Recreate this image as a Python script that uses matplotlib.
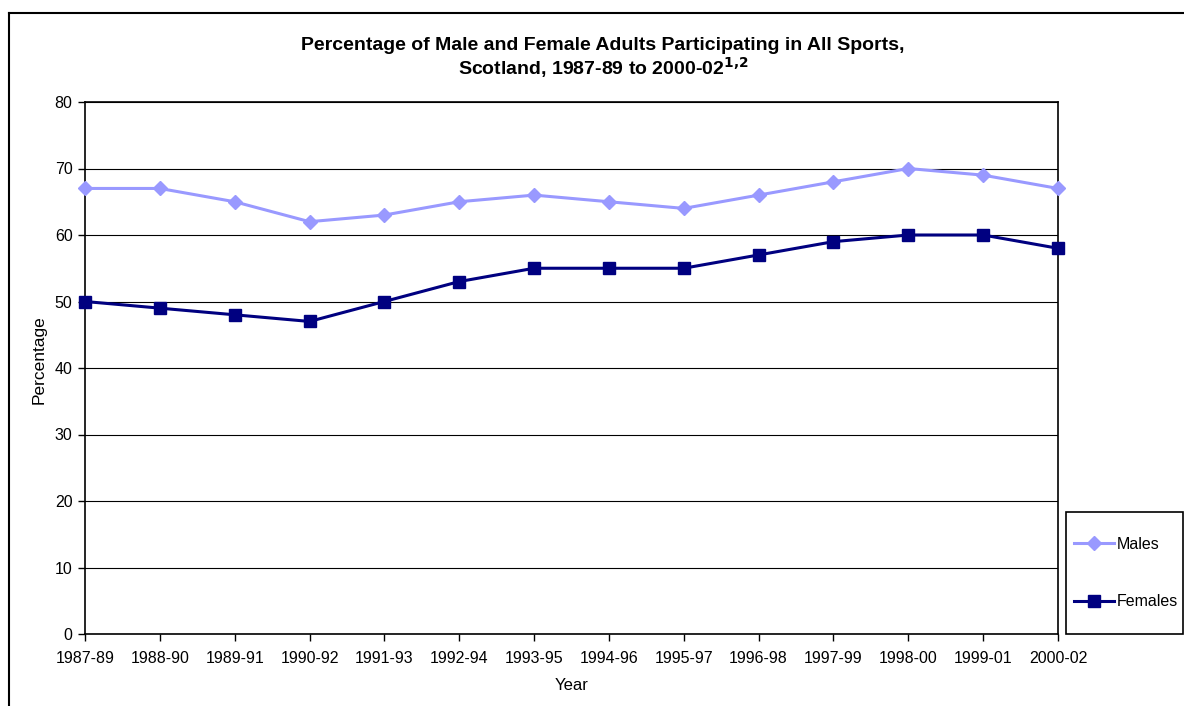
import matplotlib
matplotlib.use("Agg")
import matplotlib.pyplot as plt
from matplotlib.lines import Line2D
from matplotlib.patches import Rectangle

plt.rcParams['font.family'] = ['Liberation Sans', 'DejaVu Sans']

years = ["1987-89", "1988-90", "1989-91", "1990-92", "1991-93", "1992-94", "1993-95",
         "1994-96", "1995-97", "1996-98", "1997-99", "1998-00", "1999-01", "2000-02"]
males = [67, 67, 65, 62, 63, 65, 66, 65, 64, 66, 68, 70, 69, 67]
females = [50, 49, 48, 47, 50, 53, 55, 55, 55, 57, 59, 60, 60, 58]
yticks = [0, 10, 20, 30, 40, 50, 60, 70, 80]

W, H = 1184, 706
fig = plt.figure(figsize=(W / 100, H / 100), dpi=100)
ax = fig.add_axes([85 / W, 1 - 634 / H, (1058 - 85) / W, (634 - 102) / H])

x = list(range(len(years)))
lm, = ax.plot(x, males, color='#9999FF', lw=2.2, marker='D', ms=7, label='Males', zorder=3, clip_on=False)
lf, = ax.plot(x, females, color='#000080', lw=2.2, marker='s', ms=8.5, label='Females', zorder=3, clip_on=False)

ax.set_xlim(0, len(years) - 1)
ax.set_ylim(0, 80)
ax.set_yticks(yticks)
ax.set_xticks(x)
ax.set_xticklabels(years)
ax.tick_params(axis='both', labelsize=11.5, length=5, width=1, direction='out', color='black')
ax.tick_params(axis='x', pad=7)
ax.tick_params(axis='y', pad=4)
ax.yaxis.grid(True, color='black', lw=0.8)
ax.set_axisbelow(True)
for s in ax.spines.values():
    s.set_color('black')
    s.set_linewidth(1.2)

ax.set_xlabel('Year', fontsize=12, labelpad=9)
ax.set_ylabel('Percentage', fontsize=12.5, labelpad=6)
ax.yaxis.label.set_y(0.515)

fig.text(603 / W, 1 - 45 / H, 'Percentage of Male and Female Adults Participating in All Sports,',
         ha='center', va='center', fontsize=14, fontweight='bold')
fig.text(603 / W, 1 - 68 / H, r'Scotland, 1987-89 to 2000-02$\mathbf{^{1{,}2}}$',
         ha='center', va='center', fontsize=14, fontweight='bold')

# legend frame
fig.add_artist(Rectangle((1066 / W, 1 - 634 / H), (1183 - 1066) / W, (634 - 512) / H,
                         transform=fig.transFigure, fill=False, edgecolor='black', lw=1.2))
fig.legend(handles=[lm, lf], loc='center left',
           bbox_to_anchor=(1074 / W, 1 - 573 / H), bbox_transform=fig.transFigure,
           fontsize=11.5, frameon=False, labelspacing=2.65,
           handlelength=2.5, handletextpad=0.2, borderpad=0, borderaxespad=0)

# outer chart border (left and top edges visible)
fig.add_artist(Line2D([8.5 / W, 8.5 / W], [0, 1 - 13 / H], transform=fig.transFigure, color='black', lw=1.5))
fig.add_artist(Line2D([8.5 / W, 1], [1 - 13 / H, 1 - 13 / H], transform=fig.transFigure, color='black', lw=1.5))

fig.savefig('out.png', dpi=100)
